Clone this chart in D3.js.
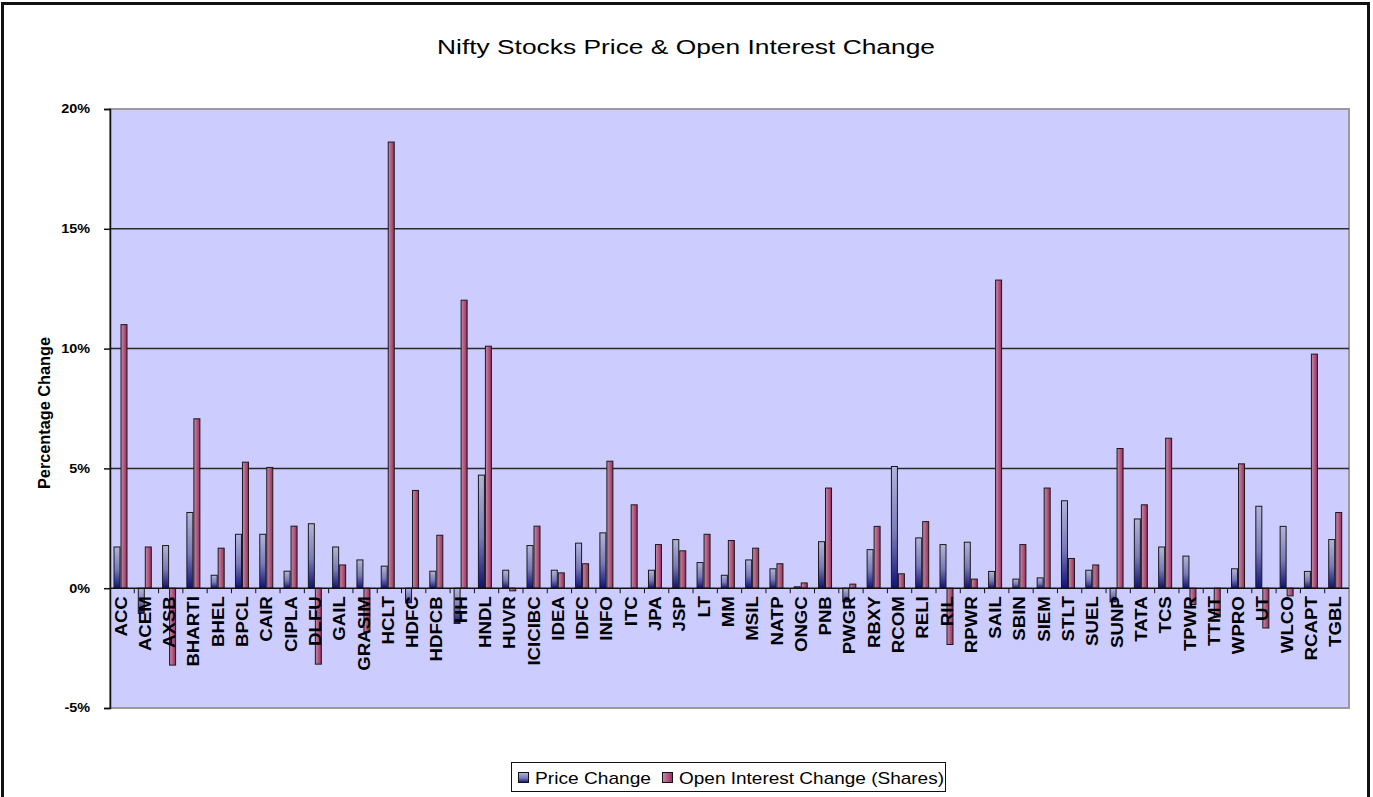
<!DOCTYPE html>
<html><head><meta charset="utf-8">
<script src="https://cdn.jsdelivr.net/npm/d3@7"></script>
<style>
html,body{margin:0;padding:0;background:#fff;}
svg{display:block;}
</style></head>
<body>
<svg id="chart" width="1373" height="797"></svg>
<script>
const categories = ["ACC","ACEM","AXSB","BHARTI","BHEL","BPCL","CAIR","CIPLA","DLFU","GAIL","GRASIM","HCLT","HDFC","HDFCB","HH","HNDL","HUVR","ICICIBC","IDEA","IDFC","INFO","ITC","JPA","JSP","LT","MM","MSIL","NATP","ONGC","PNB","PWGR","RBXY","RCOM","RELI","RIL","RPWR","SAIL","SBIN","SIEM","STLT","SUEL","SUNP","TATA","TCS","TPWR","TTMT","WPRO","UT","WLCO","RCAPT","TGBL"];
const priceChange = [1.72,-1.05,1.78,3.16,0.54,2.25,2.25,0.71,2.69,1.72,1.18,0.92,-0.61,0.71,-1.47,4.72,0.75,1.78,0.75,1.88,2.31,0,0.75,2.03,1.07,0.54,1.18,0.81,0.06,1.94,-0.57,1.61,5.08,2.10,1.82,1.92,0.70,0.38,0.43,3.65,0.75,-0.57,2.89,1.72,1.34,0,0.81,3.42,2.58,0.70,2.03];
const oiChange = [11.0,1.72,-3.21,7.07,1.67,5.26,5.04,2.59,-3.17,0.97,-1.82,18.62,4.08,2.21,12.02,10.1,-0.11,2.59,0.64,1.02,5.30,3.48,1.82,1.56,2.25,1.99,1.67,1.02,0.22,4.18,0.17,2.58,0.60,2.78,-2.35,0.38,12.86,1.82,4.18,1.24,0.97,5.83,3.48,6.26,-0.68,-1.20,5.19,-1.66,-0.32,9.77,3.16];
const seriesNames = ["Price Change","Open Interest Change (Shares)"];
const yTickValues = [-5,0,5,10,15,20];
const yTickLabels = ["-5%","0%","5%","10%","15%","20%"];
const titleText = "Nifty Stocks Price & Open Interest Change";
const yAxisTitle = "Percentage Change";

const svg = d3.select("#chart");
const plot = {left:110, right:1349, top:109, bottom:708};

function fitWidth(sel, target){
  sel.each(function(){
    this.setAttribute("textLength", target);
    this.setAttribute("lengthAdjust","spacingAndGlyphs");
  });
}
function stretch(sel, f){
  sel.each(function(){
    const w = this.getComputedTextLength();
    if (w > 0){ this.setAttribute("textLength", w*f); this.setAttribute("lengthAdjust","spacingAndGlyphs"); }
  });
}

// outer border
svg.append("rect").attr("x",2.5).attr("y",3.5).attr("width",1366).attr("height",800)
  .attr("fill","#fff").attr("stroke","#111").attr("stroke-width",3);

const defs = svg.append("defs");
const g1 = defs.append("linearGradient").attr("id","gPrice").attr("x1",0).attr("y1",0).attr("x2",0).attr("y2",1);
g1.append("stop").attr("offset","0%").attr("stop-color","#b4b4d8");
g1.append("stop").attr("offset","55%").attr("stop-color","#7a7ab8");
g1.append("stop").attr("offset","100%").attr("stop-color","#10107a");
const g2 = defs.append("linearGradient").attr("id","gOI").attr("x1",0).attr("y1",0).attr("x2",1).attr("y2",0);
g2.append("stop").attr("offset","0%").attr("stop-color","#c98aa6");
g2.append("stop").attr("offset","100%").attr("stop-color","#962d5e");

const x = d3.scaleBand().domain(categories).range([plot.left, plot.right]).padding(0);
const xs = d3.scaleBand().domain(seriesNames).range([4, 18]).padding(0);
const y = d3.scaleLinear().domain([-5,20]).range([plot.bottom, plot.top]);

// plot background
svg.append("rect").attr("x",plot.left).attr("y",plot.top)
  .attr("width",plot.right-plot.left).attr("height",plot.bottom-plot.top)
  .attr("fill","#ccccff").attr("stroke","#9a9a9a").attr("stroke-width",2);

// gridlines
svg.append("g").selectAll("line").data([5,10,15]).join("line")
  .attr("x1",plot.left).attr("x2",plot.right)
  .attr("y1",d=>y(d)).attr("y2",d=>y(d))
  .attr("stroke","#2a2a2a").attr("stroke-width",1.5);

// bars
const data = categories.map((c,i)=>({c, vals:[priceChange[i], oiChange[i]]}));
const grp = svg.append("g").selectAll("g").data(data).join("g")
  .attr("transform",d=>`translate(${x(d.c)-0.5},0)`);
grp.selectAll("rect").data(d=>d.vals.map((v,j)=>({v,s:seriesNames[j],j})).filter(e=>e.v!==0))
  .join("rect")
  .attr("x",e=>xs(e.s)+0.5)
  .attr("width",xs.bandwidth()-1)
  .attr("y",e=>Math.min(y(e.v),y(0)))
  .attr("height",e=>Math.max(1,Math.abs(y(e.v)-y(0))))
  .attr("fill",e=>e.j===0?"url(#gPrice)":"url(#gOI)")
  .attr("stroke","#1a1a1a").attr("stroke-width",1);

// zero line
svg.append("line").attr("x1",plot.left).attr("x2",plot.right)
  .attr("y1",y(0)).attr("y2",y(0)).attr("stroke","#111").attr("stroke-width",1.5);

// x ticks
svg.append("g").selectAll("line").data(d3.range(1,categories.length)).join("line")
  .attr("x1",k=>plot.left+k*x.step()).attr("x2",k=>plot.left+k*x.step())
  .attr("y1",y(0)).attr("y2",y(0)+5).attr("stroke","#111").attr("stroke-width",1);

// category labels
const cl = svg.append("g").selectAll("text").data(categories).join("text")
  .attr("transform",d=>`translate(${x(d)+x.bandwidth()/2-1.5},${y(0)+8}) rotate(-90)`)
  .attr("text-anchor","end").attr("dy","0.36em")
  .attr("font-family","'Liberation Sans',Arial,sans-serif")
  .attr("font-weight","bold").attr("font-size","16.5px").attr("fill","#000")
  .text(d=>d);
stretch(cl, 1.13);

// y axis
const yAxis = d3.axisLeft(y).tickValues(yTickValues).tickFormat((d,i)=>yTickLabels[i]).tickSize(6).tickPadding(14);
const ya = svg.append("g").attr("transform",`translate(${plot.left},0)`).call(yAxis);
ya.select(".domain").attr("stroke","#111").attr("stroke-width",1.5);
ya.selectAll(".tick line").attr("stroke","#111").attr("stroke-width",1.5);
const yt = ya.selectAll(".tick text").attr("font-family","'Liberation Sans',Arial,sans-serif")
  .attr("font-weight","bold").attr("font-size","12px").attr("fill","#000");
stretch(yt, 1.2);

// title
const tt = svg.append("text").attr("x",686).attr("y",54).attr("text-anchor","middle")
  .attr("font-family","'Liberation Sans',Arial,sans-serif").attr("font-size","20px")
  .attr("fill","#000").text(titleText);
fitWidth(tt, 498);

// y axis title
svg.append("text").attr("transform","translate(50,413) rotate(-90)")
  .attr("text-anchor","middle")
  .attr("font-family","'Liberation Sans',Arial,sans-serif")
  .attr("font-weight","bold").attr("font-size","16px").attr("fill","#000").text(yAxisTitle)
  .call(s=>fitWidth(s,152));

// legend
const lg = svg.append("g");
lg.append("rect").attr("x",511.5).attr("y",762.5).attr("width",434).attr("height",29)
  .attr("fill","#fff").attr("stroke","#111").attr("stroke-width",1);
const legX = [518, 662];
const legW = [116, 265];
seriesNames.forEach((s,i)=>{
  lg.append("rect").attr("x",legX[i]+0.5).attr("y",772.5).attr("width",10).attr("height",10)
    .attr("fill",i===0?"url(#gPrice)":"url(#gOI)").attr("stroke","#111");
  const t = lg.append("text").attr("x",legX[i]+17).attr("y",784)
    .attr("font-family","'Liberation Sans',Arial,sans-serif").attr("font-size","17px")
    .attr("fill","#000").text(s);
  fitWidth(t, legW[i]);
});
</script>
</body></html>
